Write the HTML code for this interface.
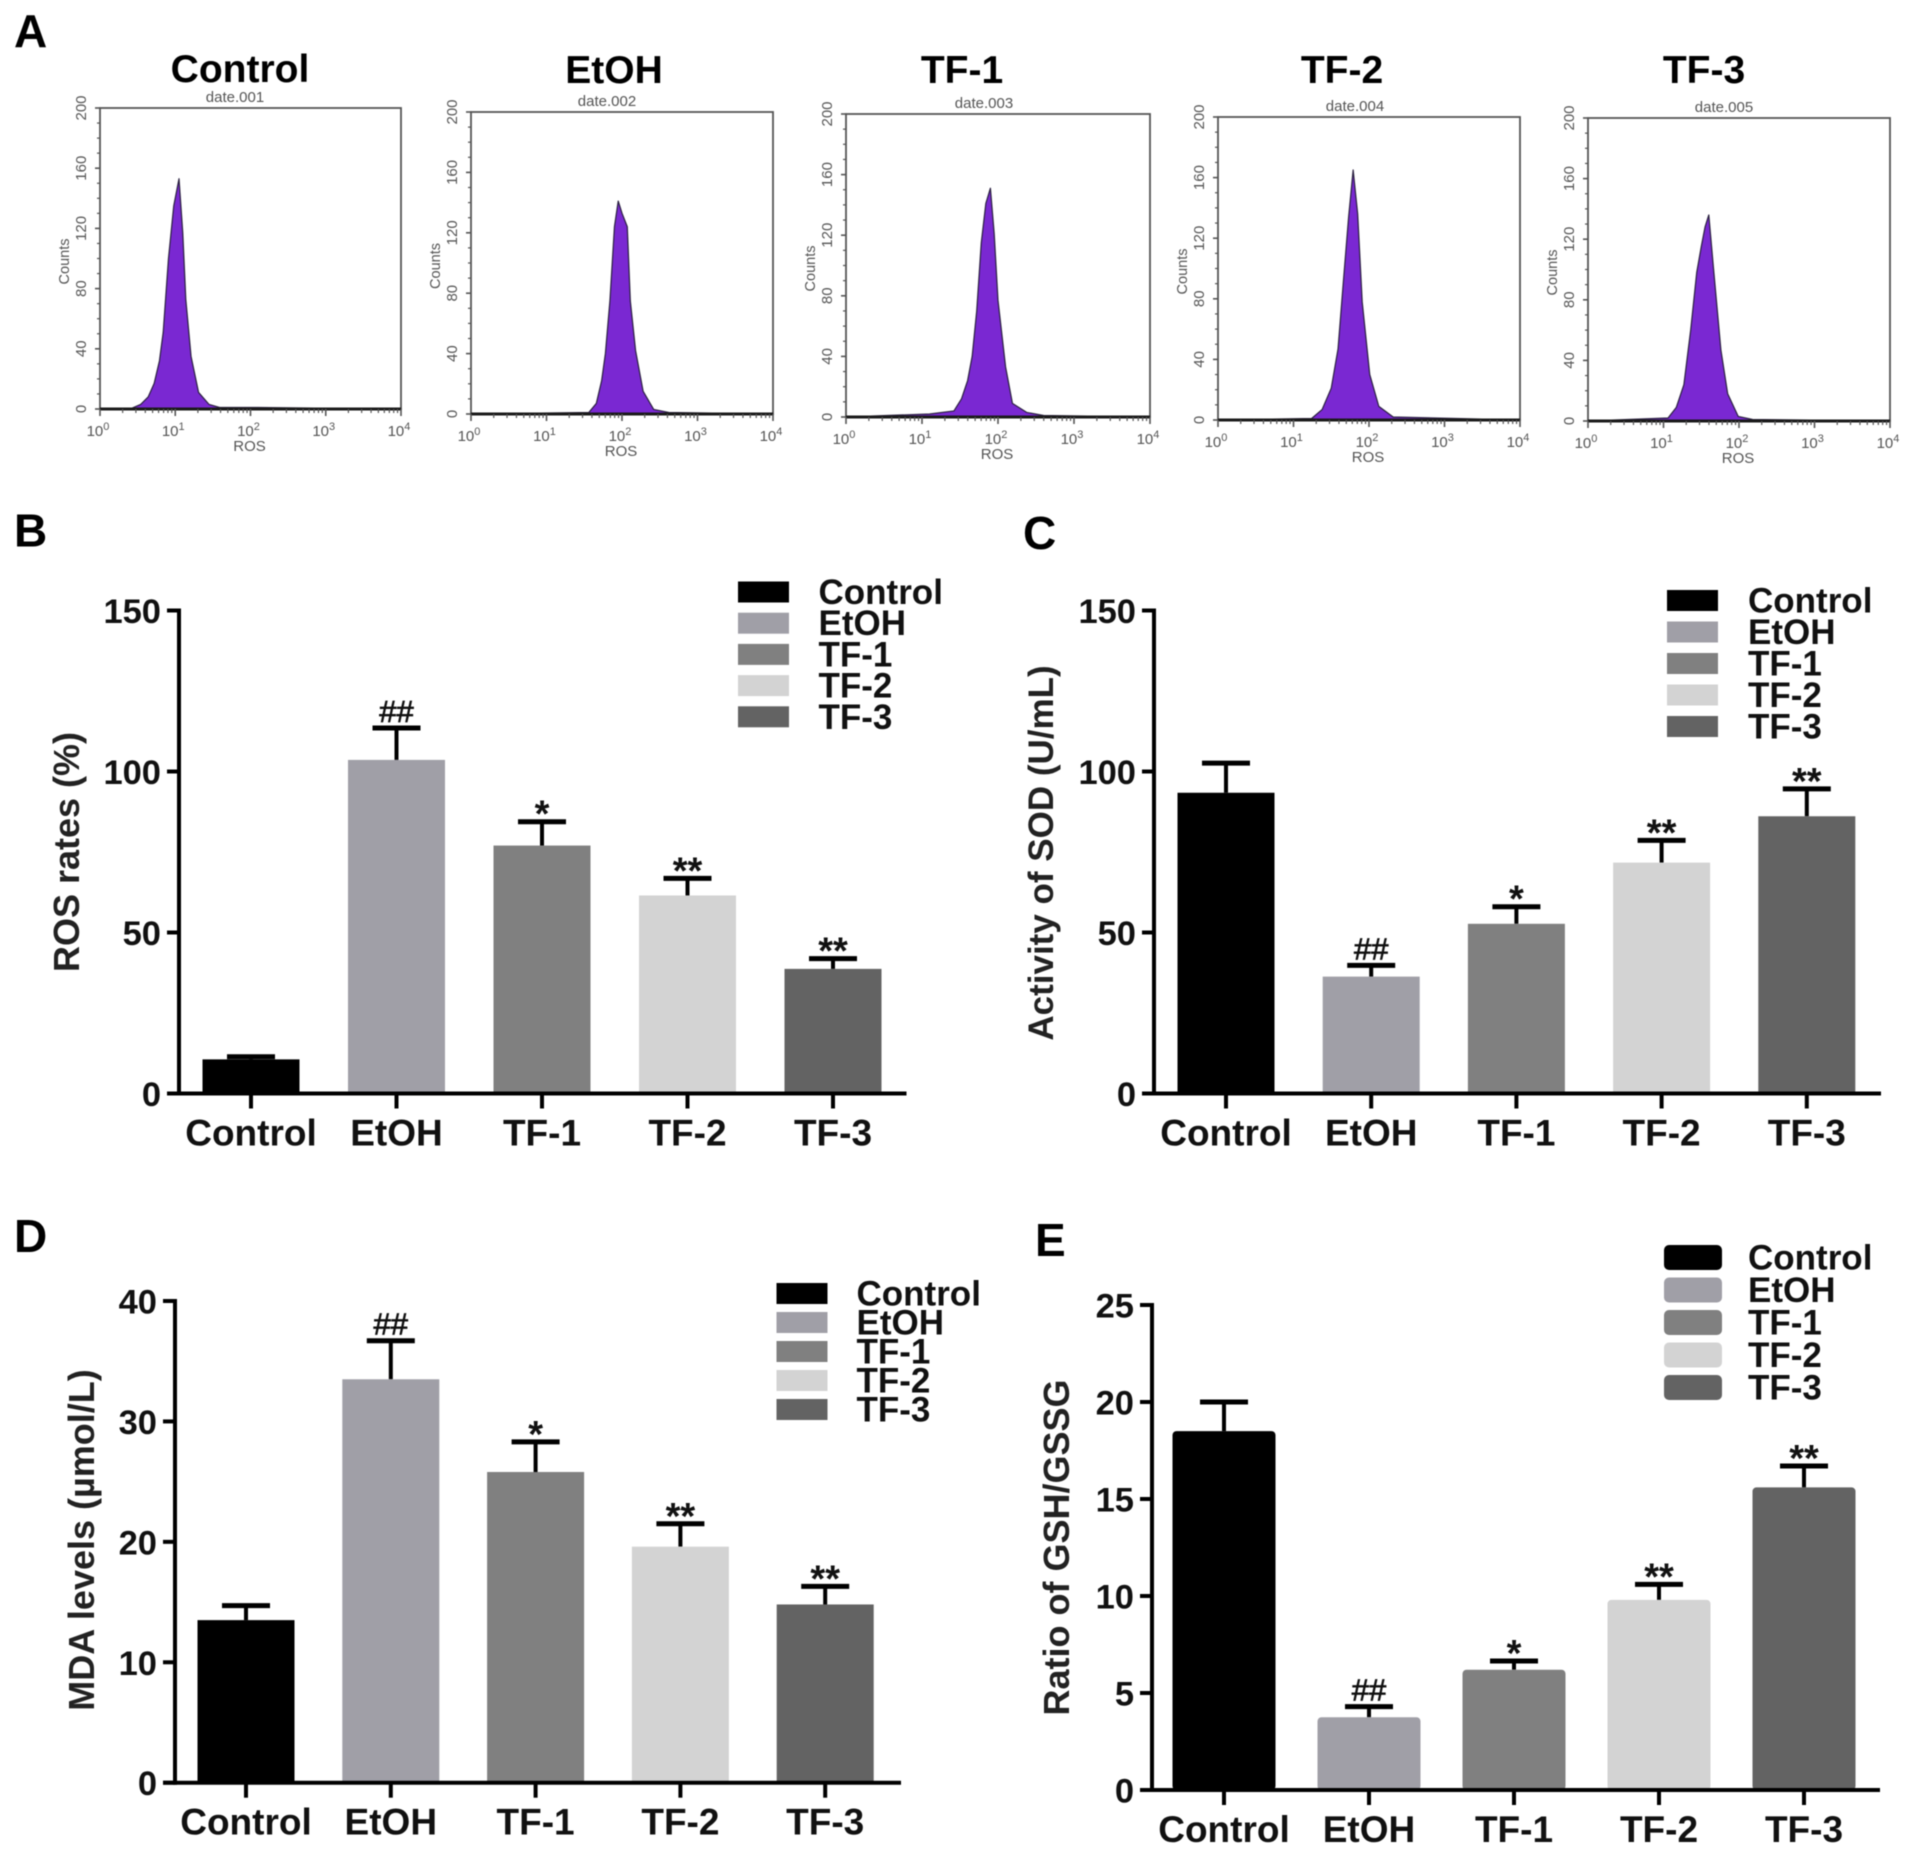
<!DOCTYPE html>
<html lang="en">
<head>
<meta charset="utf-8">
<title>Flow cytometry and oxidative stress assays</title>
<style>
  html, body { margin: 0; padding: 0; background: #fff; }
  #figure { display: block; width: 1913px; height: 1854px; background: #fff; }
  text { font-family: "Liberation Sans", Arial, sans-serif; }
  .blurred { filter: blur(0.6px); }
</style>
</head>
<body>
<svg id="figure" xmlns="http://www.w3.org/2000/svg" width="1913" height="1854" viewBox="0 0 1913 1854">
  <g id="root" class="blurred"></g>
</svg>
<script>
// ---- Shared categories ----
const categories = ['Control', 'EtOH', 'TF-1', 'TF-2', 'TF-3'];
const barColors = ['#000000', '#a09fa7', '#808080', '#d3d3d3', '#636363'];

// ---- Panel B ----
const rosValues = [10.6, 103.6, 77, 61.5, 38.7];
const rosErrors = [11.4, 113.5, 84.4, 66.8, 41.9];
const rosSig = ['', '##', '*', '**', '**'];
const rosTicks = [0, 50, 100, 150];

// ---- Panel C ----
const sodValues = [93.4, 36.3, 52.7, 71.7, 86.1];
const sodErrors = [102.6, 39.8, 58, 78.6, 94.6];
const sodSig = ['', '##', '*', '**', '**'];
const sodTicks = [0, 50, 100, 150];

// ---- Panel D ----
const mdaValues = [13.5, 33.5, 25.8, 19.6, 14.8];
const mdaErrors = [14.7, 36.7, 28.3, 21.5, 16.3];
const mdaSig = ['', '##', '*', '**', '**'];
const mdaTicks = [0, 10, 20, 30, 40];

// ---- Panel E ----
const gshValues = [18.5, 3.75, 6.2, 9.8, 15.6];
const gshErrors = [20, 4.3, 6.65, 10.6, 16.7];
const gshSig = ['', '##', '*', '**', '**'];
const gshTicks = [0, 5, 10, 15, 20, 25];

// ---- Panel A histograms: log10 fluorescence and counts ----
const controlLog = [0, 0.42, 0.54, 0.64, 0.72, 0.79, 0.84, 0.91, 0.98, 1.05, 1.10, 1.14, 1.21, 1.31, 1.45, 1.59, 2.1, 4];
const controlCounts = [0, 0.5, 3, 8, 17, 32, 51, 100, 135, 153, 117, 73, 35, 11, 3, 1, 1, 0];
const etohLog = [0, 1.56, 1.66, 1.73, 1.78, 1.84, 1.90, 1.95, 2.00, 2.07, 2.11, 2.18, 2.28, 2.42, 2.62, 4];
const etohCounts = [0, 1, 7, 22, 40, 75, 124, 141, 133, 124, 75, 42, 15, 3, 1, 0];
const tf1Log = [0, 1.1, 1.42, 1.52, 1.60, 1.66, 1.72, 1.78, 1.84, 1.90, 1.95, 2.00, 2.10, 2.19, 2.38, 2.60, 4];
const tf1Counts = [0, 2, 4, 12, 24, 40, 70, 115, 141, 151, 121, 77, 33, 9, 3, 1, 0];
const tf2Log = [0, 1.24, 1.38, 1.50, 1.59, 1.66, 1.73, 1.79, 1.85, 1.91, 2.01, 2.13, 2.32, 4];
const tf2Counts = [0, 1, 7, 21, 47, 91, 134, 165, 136, 78, 30, 9, 2, 0];
const tf3Log = [0, 1.06, 1.17, 1.27, 1.36, 1.44, 1.50, 1.55, 1.60, 1.66, 1.76, 1.85, 1.99, 2.18, 4];
const tf3Counts = [0, 2, 9, 24, 60, 98, 115, 128, 136, 102, 47, 18, 3, 1, 0];
const flowCountTicks = [0, 40, 80, 120, 160, 200];
const flowDecades = [0, 1, 2, 3, 4];
const flowFiles = ['date.001', 'date.002', 'date.003', 'date.004', 'date.005'];

const SVG_NS = 'http://www.w3.org/2000/svg';
const root = document.getElementById('root');

function make(tag, attrs, parent, content) {
  const el = document.createElementNS(SVG_NS, tag);
  Object.keys(attrs).forEach(function (k) { el.setAttribute(k, attrs[k]); });
  if (content !== undefined) { el.textContent = content; }
  (parent || root).appendChild(el);
  return el;
}

function drawLetter(letter, x, y) {
  const el = make('text', { x: x, y: y, 'font-size': 46, 'font-weight': 'bold', fill: '#000' }, root, letter);
  
  
}

function drawBarPanel(p) {
  const g = make('g', {});
  
  
  const yScale = function (v) { return p.y0 + (p.yTop - p.y0) * v / p.yMax; };
  const xScale = function (i) { return p.x0 + p.step * i; };

  p.values.forEach(function (v, i) {
    const cx = xScale(i);
    const top = yScale(v);
    const capY = yScale(p.errors[i]);
    const stem = make('line', { x1: cx, x2: cx, y1: capY, y2: top, stroke: '#000', 'stroke-width': 4 }, g);
    
    
    const cap = make('line', { x1: cx - 24, x2: cx + 24, y1: capY, y2: capY, stroke: '#000', 'stroke-width': 5 }, g);
    
    
    const bar = make('rect', { x: cx - p.barW / 2, y: top, width: p.barW, height: p.y0 - top, fill: barColors[i], rx: p.rx || 0 }, g);
    
    
    if (p.sig[i]) {
      const isHash = p.sig[i].charAt(0) === '#';
      const sigEl = make('text', {
        x: cx, y: isHash ? capY - 6 : capY + 5, 'text-anchor': 'middle',
        'font-size': isHash ? 31 : 38, 'font-weight': isHash ? 'normal' : 'bold', fill: '#111',
        stroke: isHash ? '#111' : 'none', 'stroke-width': isHash ? 0.7 : 0
      }, g, p.sig[i]);
      
      
    }
    const tick = make('line', { x1: cx, x2: cx, y1: p.y0, y2: p.y0 + 15, stroke: '#000', 'stroke-width': 4 }, g);
    
    
    const label = make('text', { x: cx, y: p.y0 + 52, 'text-anchor': 'middle', 'font-size': 37, 'font-weight': 'bold', fill: '#111' }, g, categories[i]);
    
    
  });

  const yAxis = make('line', { x1: p.axisX, x2: p.axisX, y1: yScale(p.yMax) - 2, y2: p.y0 + 2, stroke: '#000', 'stroke-width': 4 }, g);
  
  
  const xAxis = make('line', { x1: p.axisX - 12, x2: p.xEnd, y1: p.y0, y2: p.y0, stroke: '#000', 'stroke-width': 4 }, g);
  
  

  p.ticks.forEach(function (t) {
    const y = yScale(t);
    const tick = make('line', { x1: p.axisX - 12, x2: p.axisX, y1: y, y2: y, stroke: '#000', 'stroke-width': 4 }, g);
    
    
    const label = make('text', { x: p.axisX - 18, y: y + 12.5, 'text-anchor': 'end', 'font-size': 34.5, 'font-weight': 'bold', fill: '#111' }, g, String(t));
    
    
  });

  const title = make('text', {
    x: 0, y: 0, 'text-anchor': 'middle', 'font-size': p.titleSize, 'font-weight': 'bold', fill: '#222',
    transform: 'translate(' + p.titleX + ',' + p.titleY + ') rotate(-90)'
  }, g, p.title);
  
  

  categories.forEach(function (c, i) {
    const cy = p.legY + p.legStep * i;
    const sw = make('rect', { x: p.legX, y: cy - p.legH / 2, width: p.legW, height: p.legH, fill: barColors[i], rx: p.legR || 0 }, g);
    
    
    const tx = make('text', { x: p.legTextX, y: cy + 12, 'font-size': 35, 'font-weight': 'bold', fill: '#111' }, g, c);
    
    
  });
}

function drawFlowPanel(f, index) {
  const g = make('g', {});
  
  
  const xScale = function (v) { return f.left + (f.right - f.left) * v / 4; };
  const yScale = function (v) { return f.bottom + (f.top - f.bottom) * v / 200; };
  const gray = '#555555';

  const titleEl = make('text', { x: f.titleX, y: f.titleY, 'text-anchor': 'middle', 'font-size': 39, 'font-weight': 'bold', fill: '#000' }, g, categories[index]);
  
  

  const dateEl = make('text', { x: f.dateX, y: f.top - 6, 'text-anchor': 'middle', 'font-size': 15, fill: gray }, g, flowFiles[index]);
  
  

  let d = 'M' + xScale(f.log[0]) + ',' + yScale(0);
  f.counts.forEach(function (c, i) { d += ' L' + xScale(f.log[i]) + ',' + yScale(c); });
  d += ' L' + xScale(f.log[f.log.length - 1]) + ',' + yScale(0) + ' Z';
  const area = make('path', { d: d, fill: '#7a28d2', stroke: '#2a2040', 'stroke-width': 1.2, 'stroke-linejoin': 'round' }, g);
  
  

  const frame = make('rect', { x: f.left, y: f.top, width: f.right - f.left, height: f.bottom - f.top, fill: 'none', stroke: gray, 'stroke-width': 1.8 }, g);
  
  
  const baseline = make('line', { x1: f.left, x2: f.right, y1: f.bottom, y2: f.bottom, stroke: '#1a1a1a', 'stroke-width': 3 }, g);
  
  

  flowCountTicks.forEach(function (t) {
    const y = yScale(t);
    const tick = make('line', { x1: f.left - 5, x2: f.left, y1: y, y2: y, stroke: gray, 'stroke-width': 1.6 }, g);
    
    
    const lab = make('text', {
      x: 0, y: 0, 'text-anchor': 'middle', 'font-size': 15, fill: gray,
      transform: 'translate(' + (f.left - 14) + ',' + y + ') rotate(-90)'
    }, g, String(t));
    
    
    if (t < 200) {
      [10, 20, 30].forEach(function (m) {
        const my = yScale(t + m);
        const minor = make('line', { x1: f.left - 3, x2: f.left, y1: my, y2: my, stroke: gray, 'stroke-width': 1.2 }, g);
        
        
      });
    }
  });

  flowDecades.forEach(function (dec) {
    const x = xScale(dec);
    const tick = make('line', { x1: x, x2: x, y1: f.bottom, y2: f.bottom + 7, stroke: gray, 'stroke-width': 1.6 }, g);
    
    
    const lab = make('text', { x: x - 2, y: f.bottom + 27, 'text-anchor': 'middle', 'font-size': 15, fill: gray }, g);
    
    
    make('tspan', {}, lab, '10');
    make('tspan', { dy: -6, 'font-size': 11 }, lab, String(dec));
    if (dec < 4) {
      [2, 3, 4, 5, 6, 7, 8, 9].forEach(function (m) {
        const mx = xScale(dec + Math.log10(m));
        const minor = make('line', { x1: mx, x2: mx, y1: f.bottom, y2: f.bottom + 4, stroke: gray, 'stroke-width': 1.2 }, g);
        
        
      });
    }
  });

  const rosEl = make('text', { x: (f.left + f.right) / 2 - 1, y: f.bottom + 42, 'text-anchor': 'middle', 'font-size': 15, fill: gray }, g, 'ROS');
  
  
  const countsEl = make('text', {
    x: 0, y: 0, 'text-anchor': 'middle', 'font-size': 14.5, fill: gray,
    transform: 'translate(' + (f.left - 31) + ',' + ((f.top + f.bottom) / 2 + 3) + ') rotate(-90)'
  }, g, 'Counts');
  
  
}

drawLetter('A', 14, 47);
drawLetter('B', 14, 546.5);
drawLetter('C', 1023, 549);
drawLetter('D', 14, 1252);
drawLetter('E', 1035, 1256);

drawFlowPanel({ left: 100, right: 401, top: 108, bottom: 409, titleX: 240, titleY: 82, dateX: 235, log: controlLog, counts: controlCounts }, 0);
drawFlowPanel({ left: 471, right: 773, top: 112, bottom: 414, titleX: 614, titleY: 83, dateX: 607, log: etohLog, counts: etohCounts }, 1);
drawFlowPanel({ left: 846, right: 1150, top: 114, bottom: 417, titleX: 962, titleY: 83, dateX: 984, log: tf1Log, counts: tf1Counts }, 2);
drawFlowPanel({ left: 1218, right: 1520, top: 117, bottom: 420, titleX: 1342, titleY: 83, dateX: 1355, log: tf2Log, counts: tf2Counts }, 3);
drawFlowPanel({ left: 1588, right: 1890, top: 118, bottom: 421, titleX: 1704, titleY: 83, dateX: 1724, log: tf3Log, counts: tf3Counts }, 4);

drawBarPanel({
  name: 'ros-rates', values: rosValues, errors: rosErrors, sig: rosSig, ticks: rosTicks, yMax: 150,
  axisX: 179, xEnd: 906.5, x0: 251, step: 145.5, barW: 97, y0: 1093.5, yTop: 610.5,
  title: 'ROS rates (%)', titleSize: 36, titleX: 79, titleY: 852,
  legX: 738, legW: 51, legH: 21, legY: 592, legStep: 31.2, legTextX: 818.5
});
drawBarPanel({
  name: 'sod-activity', values: sodValues, errors: sodErrors, sig: sodSig, ticks: sodTicks, yMax: 150,
  axisX: 1154, xEnd: 1881, x0: 1226, step: 145.2, barW: 97, y0: 1093.5, yTop: 610.5,
  title: 'Activity of SOD (U/mL)', titleSize: 35, titleX: 1053, titleY: 853,
  legX: 1667, legW: 51, legH: 21, legY: 600.5, legStep: 31.5, legTextX: 1748
});
drawBarPanel({
  name: 'mda-levels', values: mdaValues, errors: mdaErrors, sig: mdaSig, ticks: mdaTicks, yMax: 40,
  axisX: 175, xEnd: 901, x0: 246, step: 144.8, barW: 97, y0: 1782.7, yTop: 1301,
  title: 'MDA levels (\u00b5mol/L)', titleSize: 36, titleX: 94, titleY: 1540,
  legX: 776.5, legW: 51, legH: 21, legY: 1293.5, legStep: 29, legTextX: 856.5
});
drawBarPanel({
  name: 'gsh-gssg-ratio', values: gshValues, errors: gshErrors, sig: gshSig, ticks: gshTicks, yMax: 25,
  axisX: 1152, xEnd: 1880, x0: 1224, step: 145, barW: 103, rx: 4, y0: 1790, yTop: 1305,
  title: 'Ratio of GSH/GSSG', titleSize: 36, titleX: 1069, titleY: 1547.5,
  legX: 1664, legW: 58, legH: 25, legR: 5, legY: 1257.5, legStep: 32.5, legTextX: 1748
});
</script>
</body>
</html>
